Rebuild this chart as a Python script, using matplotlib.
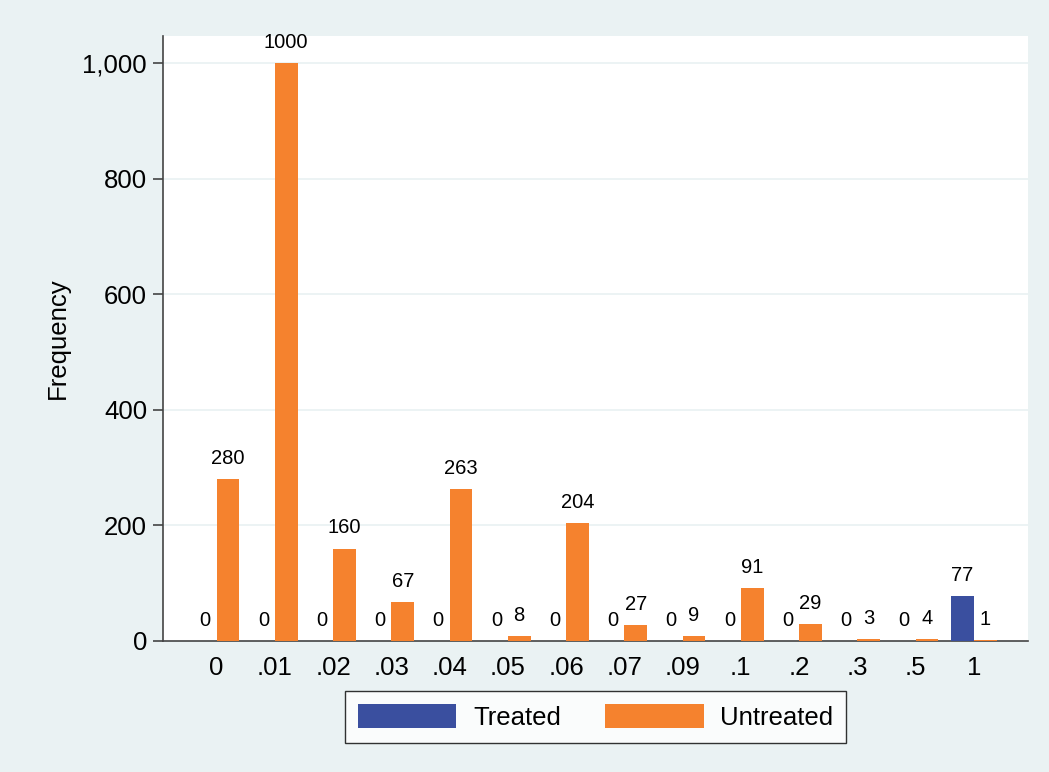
import matplotlib.pyplot as plt
import numpy as np

categories = ['0', '.01', '.02', '.03', '.04', '.05', '.06', '.07', '.09', '.1', '.2', '.3', '.5', '1']
treated = [0, 0, 0, 0, 0, 0, 0, 0, 0, 0, 0, 0, 0, 77]
untreated = [280, 1000, 160, 67, 263, 8, 204, 27, 9, 91, 29, 3, 4, 1]

blue = '#3A4F9F'
orange = '#F5822E'
bg = '#EAF2F3'

plt.rcParams['font.family'] = ['Liberation Sans', 'DejaVu Sans']

fig = plt.figure(figsize=(10.49, 7.72), dpi=100, facecolor=bg)
ax = fig.add_axes([0.1554, 0.1697, 0.8246, 0.7837])
ax.set_facecolor('white')

x = np.arange(len(categories))
w = 0.39
b1 = ax.bar(x - w / 2, treated, w, color=blue, label='Treated')
b2 = ax.bar(x + w / 2, untreated, w, color=orange, label='Untreated')

# value labels above every bar
for bars, vals in ((b1, treated), (b2, untreated)):
    for r, v in zip(bars, vals):
        ax.annotate(str(v), (r.get_x() + r.get_width() / 2, v),
                    xytext=(0, 8), textcoords='offset points',
                    ha='center', va='bottom', fontsize=14.5)

ax.set_xlim(-0.92, 13.93)
ax.set_ylim(0, 1047)
ax.set_yticks([0, 200, 400, 600, 800, 1000])
ax.set_yticklabels(['0', '200', '400', '600', '800', '1,000'])
ax.set_xticks(x)
ax.set_xticklabels(categories)
ax.tick_params(axis='y', labelsize=18.5, length=7.5, width=1.2, color='#444444', pad=4)
ax.tick_params(axis='x', labelsize=18.5, length=0, pad=11)

for y in [200, 400, 600, 800, 1000]:
    ax.axhline(y, color=bg, lw=1.3, zorder=0)

ax.spines['top'].set_visible(False)
ax.spines['right'].set_visible(False)
ax.spines['left'].set_color('#444444')
ax.spines['bottom'].set_color('#444444')
ax.spines['left'].set_linewidth(1.2)
ax.spines['bottom'].set_linewidth(1.2)
ax.spines['bottom'].set_zorder(0.5)

ax.set_ylabel('Frequency', fontsize=18.5, labelpad=9)

leg = ax.legend(loc='upper center', bbox_to_anchor=(0.5, -0.0826), ncol=2,
                fontsize=18.5, frameon=True, fancybox=False, edgecolor='black',
                handlelength=3.85, handleheight=1.1, columnspacing=1.7,
                handletextpad=0.65, borderpad=0.5, borderaxespad=0)
leg.get_frame().set_linewidth(1.0)

plt.savefig('out.png', dpi=100, facecolor=bg)
